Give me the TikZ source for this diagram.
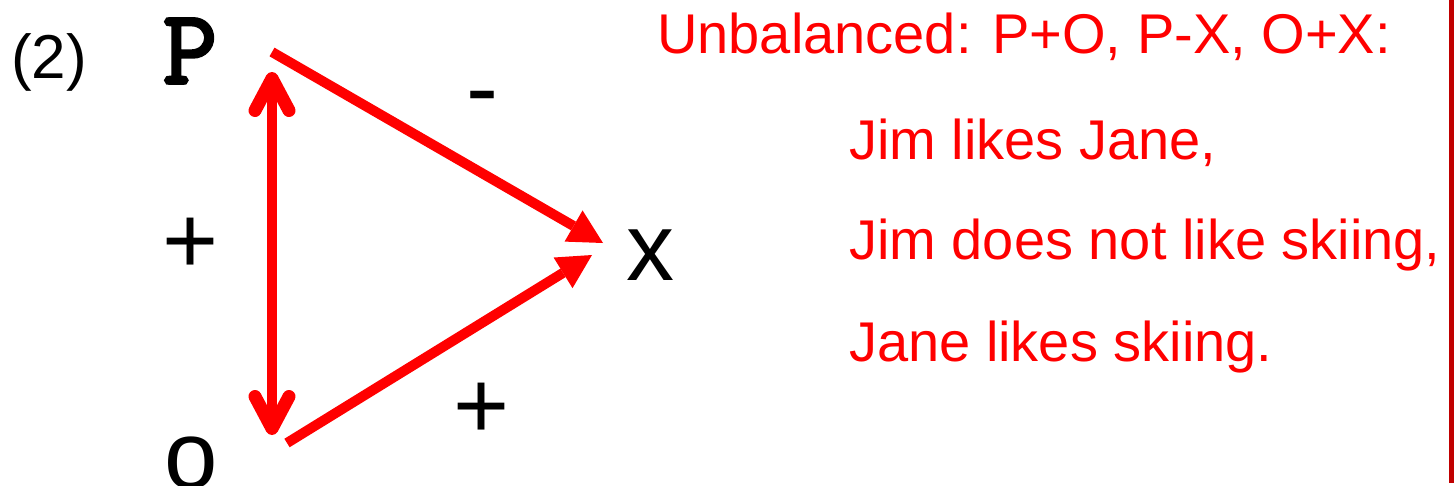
\documentclass[tikz,border=0pt]{standalone}
\usepackage{fontspec}
\setmainfont{Liberation Sans}
\newfontfamily\pfont{Latin Modern Mono}[FakeBold=3]
\usetikzlibrary{arrows.meta}
\definecolor{dred}{RGB}{192,0,0}
\begin{document}
\begin{tikzpicture}[x=1pt,y=-1pt,
  lbl/.style={inner sep=0pt, font=\fontsize{96}{100}\selectfont},
  redtxt/.style={inner sep=0pt, anchor=base west, text=red, font=\fontsize{56}{60}\selectfont},
  link/.style={red, line width=10pt},
  sharphead/.style={-{Triangle[length=34pt,width=36pt,line width=0pt]}},
  roundheads/.style={{Straight Barb[round,length=32pt,width=34pt,line width=13pt]}-{Straight Barb[round,length=32pt,width=34pt,line width=13pt]}}
]
\useasboundingbox (0,0) rectangle (1455,485);
% labels
\node[lbl, font=\fontsize{62}{66}\selectfont] (num) at (49,62) {(2)};
\node[lbl, font=\pfont\fontsize{106}{110}\selectfont] (P) at (190,51) {P};
\node[lbl, anchor=north] (O) at (191,437) {o};
\node[lbl] (X) at (650,255) {x};
\node[lbl] (s1) at (482,106) {-};
\node[lbl] (s2) at (191,246) {+};
\node[lbl] (s3) at (482,411) {+};
% connector ends
\coordinate (Pv) at ([shift={(82,21)}]P.center);
\coordinate (Pd) at ([shift={(82,1)}]P.center);
\coordinate (Ov) at ([shift={(81,-2)}]O.north);
\coordinate (Od) at ([shift={(96,6)}]O.north);
\coordinate (Xa) at ([shift={(-47,-12)}]X.center);
\coordinate (Xb) at ([shift={(-58,0)}]X.center);
% connectors
\draw[link, roundheads] (Pv) -- (Ov);
\draw[link, sharphead] (Pd) -- (Xa);
\draw[link, sharphead] (Od) -- (Xb);
% text
\node[redtxt] (t0) at (657,53) {Unbalanced: P+O, P-X, O+X:};
\node[redtxt] (t1) at (849,159) {Jim likes Jane,};
\node[redtxt] (t2) at (849,259) {Jim does not like skiing,};
\node[redtxt] (t3) at (849,361) {Jane likes skiing.};
% right rule
\draw[dred, line width=5pt] (1451,0) -- (1451,483);
\end{tikzpicture}
\end{document}
